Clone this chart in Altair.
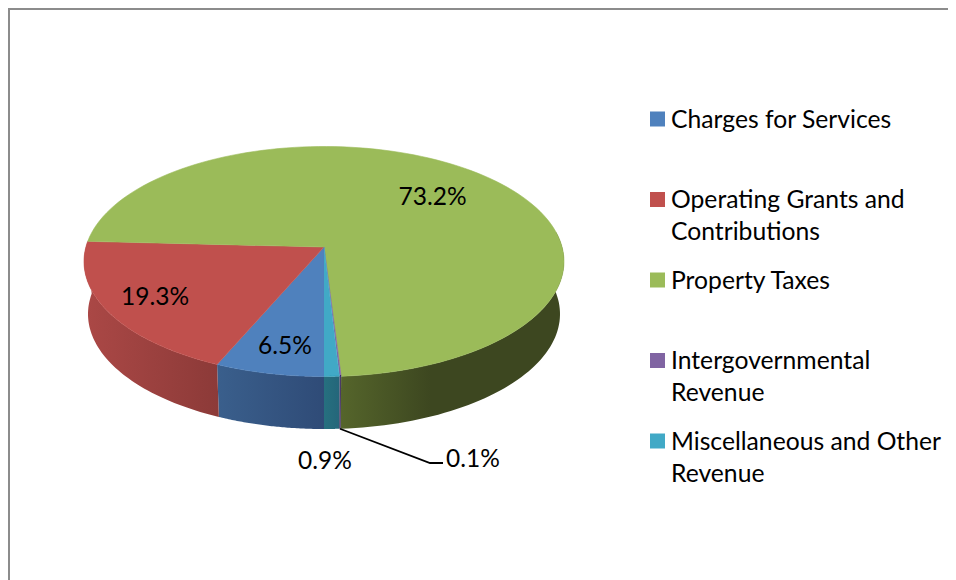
import math
import altair as alt
import pandas as pd

# ---- data ----
categories = ["Charges for Services", "Operating Grants and Contributions", "Property Taxes",
              "Intergovernmental Revenue", "Miscellaneous and Other Revenue"]
shares = [6.5, 19.3, 73.2, 0.1, 0.9]
share_labels = ["6.5%", "19.3%", "73.2%", "0.1%", "0.9%"]
top_colors = ["#4f81bd", "#c0504d", "#9bbb59", "#8064a2", "#41a9c6"]
wrapped = {"Operating Grants and Contributions": "Operating Grants and|Contributions",
           "Intergovernmental Revenue": "Intergovernmental|Revenue",
           "Miscellaneous and Other Revenue": "Miscellaneous and Other|Revenue"}

# ---- layout (image pixels) ----
CX, CY, A, B = 324.0, 261.5, 240.0, 115.0     # top rim ellipse
CX2, CY2, A2, B2 = 324.0, 314.0, 236.0, 115.0  # bottom rim ellipse
K = -0.126                                     # perspective shift of the pie's centre
label_xy = {"73.2%": (432.5, 197.5), "19.3%": (155, 297.5), "6.5%": (285, 346.5),
            "0.9%": (325, 461.5), "0.1%": (473, 459.5)}
side_stops = [("#3a5f8c", "#2f4b77"), ("#ab4846", "#8c3a38"), ("#55652b", "#3d4720"),
              ("#4a3a66", "#4a3a66"), ("#26707f", "#24667a")]
LEGEND_TOP, LEGEND_STEP = 119.0, 80.5
FONT = "Lato"
FS_LEGEND = 24.7
FS_LABEL = 24.5


def project(theta, r, cx, cy, a, b):
    """theta in degrees, clockwise from the front of the pie."""
    t = math.radians(theta)
    X, Y = -r * math.sin(t), r * math.cos(t)
    d = 1 + K * Y
    return cx + a * X * math.sqrt(1 - K * K) / d, cy + b * (Y + K) / d


edges = [0.0]
for s in shares:
    edges.append(edges[-1] + s * 3.6)


def steps(t0, t1, n=60):
    return [t0 + (t1 - t0) * i / n for i in range(n + 1)]


top_rows = []
for name, t0, t1 in zip(categories, edges[:-1], edges[1:]):
    i = 0
    x, y = project(0, 0, CX, CY, A, B)
    top_rows.append(dict(series=name, i=i, x=x, y=y))
    for t in steps(t0, t1, 120):
        i += 1
        x, y = project(t, 1, CX, CY, A, B)
        top_rows.append(dict(series=name, i=i, x=x, y=y))
top_df = pd.DataFrame(top_rows)

x_scale = alt.Scale(domain=[8, 948])
y_scale = alt.Scale(domain=[580, 8])
xs = alt.X("x:Q", axis=None, scale=x_scale)
ys = alt.Y("y:Q", axis=None, scale=y_scale)
color_scale = alt.Scale(domain=categories, range=top_colors)

layers = []
# side walls, drawn before the top face
for idx, (t0, t1) in enumerate(zip(edges[:-1], edges[1:])):
    a0, a1 = t0, t1
    if idx == 2:      # Property Taxes: only the front right wall shows
        a0 = 262.0
    rim = [project(t, 1, CX, CY, A, B) for t in steps(a0, a1)]
    low = [project(t, 1, CX2, CY2, A2, B2) for t in steps(a1, a0)]
    pts = rim + low
    df = pd.DataFrame({"x": [p[0] for p in pts], "y": [p[1] for p in pts], "i": range(len(pts))})
    c0, c1 = side_stops[idx]
    if idx == 2:
        stops = [alt.GradientStop(offset=0, color=c0),
                 alt.GradientStop(offset=0.4, color=c1),
                 alt.GradientStop(offset=1, color=c1)]
    else:
        stops = [alt.GradientStop(offset=0, color=c0), alt.GradientStop(offset=1, color=c1)]
    grad = alt.Gradient(gradient="linear", x1=0, x2=1, y1=0, y2=0, stops=stops)
    layers.append(alt.Chart(df).mark_line(fill=grad, strokeWidth=0, interpolate="linear")
                  .encode(x=xs, y=ys, order="i:Q"))

# top face
layers.append(alt.Chart(top_df).mark_line(strokeWidth=0.6, interpolate="linear").encode(
    x=xs, y=ys, order="i:Q",
    fill=alt.Fill("series:N", scale=color_scale, legend=None),
    stroke=alt.Stroke("series:N", scale=color_scale, legend=None)))

# leader line of the 0.1% label
lead_start = project((edges[3] + edges[4]) / 2, 1, CX2, CY2, A2, B2)
lead = pd.DataFrame({"x": [lead_start[0], 430, 443], "y": [lead_start[1], 463, 463], "i": [0, 1, 2]})
layers.append(alt.Chart(lead).mark_line(color="#000000", strokeWidth=1.8).encode(x=xs, y=ys, order="i:Q"))

# value labels
lab = pd.DataFrame({"text": share_labels,
                    "x": [label_xy[t][0] for t in share_labels],
                    "y": [label_xy[t][1] for t in share_labels]})
layers.append(alt.Chart(lab).mark_text(font=FONT, fontSize=FS_LABEL, color="#000000",
                                       align="center", baseline="middle")
              .encode(x=xs, y=ys, text="text:N"))

# legend
leg = pd.DataFrame({"series": categories,
                    "text": [wrapped.get(c, c) for c in categories],
                    "y": [LEGEND_TOP + LEGEND_STEP * i for i in range(len(categories))]})
leg["sx"] = 657.5
leg["tx"] = 671.0
leg["ty"] = leg["y"] + 8.5
layers.append(alt.Chart(leg).mark_square(size=225, opacity=1).encode(
    x=alt.X("sx:Q", axis=None, scale=x_scale), y=ys,
    fill=alt.Fill("series:N", scale=color_scale, legend=None)))
layers.append(alt.Chart(leg).mark_text(font=FONT, fontSize=FS_LEGEND, color="#000000", align="left",
                                       baseline="alphabetic", lineBreak="|", lineHeight=32).encode(
    x=alt.X("tx:Q", axis=None, scale=x_scale),
    y=alt.Y("ty:Q", axis=None, scale=y_scale), text="text:N"))

# chart-area border
border = pd.DataFrame({"a": [0]})
layers.append(alt.Chart(border).mark_rule(color="#8c8c8c", strokeWidth=2)
              .encode(x=alt.value(0), x2=alt.value(940), y=alt.value(1)))
layers.append(alt.Chart(border).mark_rule(color="#8c8c8c", strokeWidth=2)
              .encode(x=alt.value(1), y=alt.value(0), y2=alt.value(572)))

chart = alt.layer(*layers).properties(
    width=940, height=572, padding=0, autosize=alt.AutoSizeParams(type="none"), background="#ffffff"
).configure_view(stroke=None)

chart.save("out.html", embed_options={"renderer": "svg", "actions": False})
